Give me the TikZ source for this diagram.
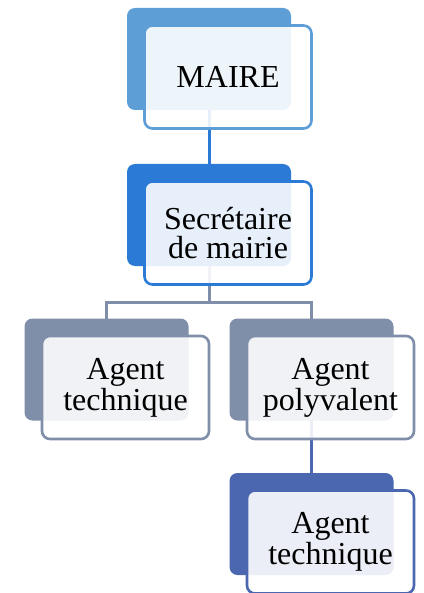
\documentclass[tikz,border=0pt]{standalone}
\usepackage{fontspec}
\setmainfont{Liberation Serif}
\usepackage{tikz}
\usetikzlibrary{backgrounds}
\usepackage{xcolor}
\definecolor{maireblue}{HTML}{5E9ED6}
\definecolor{secrblue}{HTML}{2B7BD6}
\definecolor{agentgray}{HTML}{7F8FA9}
\definecolor{techblue}{HTML}{4A67B0}
\newcommand{\orgfont}{\fontsize{16pt}{14.5pt}\selectfont}

\begin{document}
\begin{tikzpicture}[x=0.5pt,y=-0.5pt,
    backbox/.style={rectangle, rounded corners=4pt, fill=#1, inner sep=0pt,
        minimum width=82pt, minimum height=51pt},
    frontbox/.style={rectangle, rounded corners=4pt, draw=#1, line width=1.3pt,
        fill=white, fill opacity=0.89, text opacity=1, align=center,
        font=\orgfont, inner sep=0pt, minimum width=83.5pt, minimum height=51.5pt,
        xshift=9.5pt, yshift=-9pt},
    link/.style={draw=#1, line width=1.5pt}]
    \useasboundingbox (0,0) rectangle (423,593);

    % back shapes
    \node[backbox=maireblue] (maireb) at (209,59) {};
    \node[backbox=secrblue] (secrb) at (209,215) {};
    \node[backbox=agentgray] (agentb) at (106.5,369.5) {};
    \node[backbox=agentgray] (polyb) at (311.5,369.5) {};
    \node[backbox=techblue] (techb) at (311.5,524) {};

    % front shapes with the texts
    \node[frontbox=maireblue] (maire) at (maireb) {MAIRE};
    \node[frontbox=secrblue] (secr) at (secrb) {Secrétaire\\de mairie};
    \node[frontbox=agentgray] (agent) at (agentb) {Agent\\technique};
    \node[frontbox=agentgray] (poly) at (polyb) {Agent\\polyvalent};
    \node[frontbox=techblue] (tech) at (techb) {Agent\\technique};

    \coordinate (fork) at (209,302);

    \begin{pgfonlayer}{background}
        \draw[link=secrblue] (maireb.center) -- (secrb.center);
        \draw[link=agentgray] (secrb.center) -- (fork);
        \draw[link=agentgray] (agentb.center) |- (fork) -| (polyb.center);
        \draw[link=techblue] (polyb.center) -- (techb.center);
    \end{pgfonlayer}

\end{tikzpicture}
\end{document}
